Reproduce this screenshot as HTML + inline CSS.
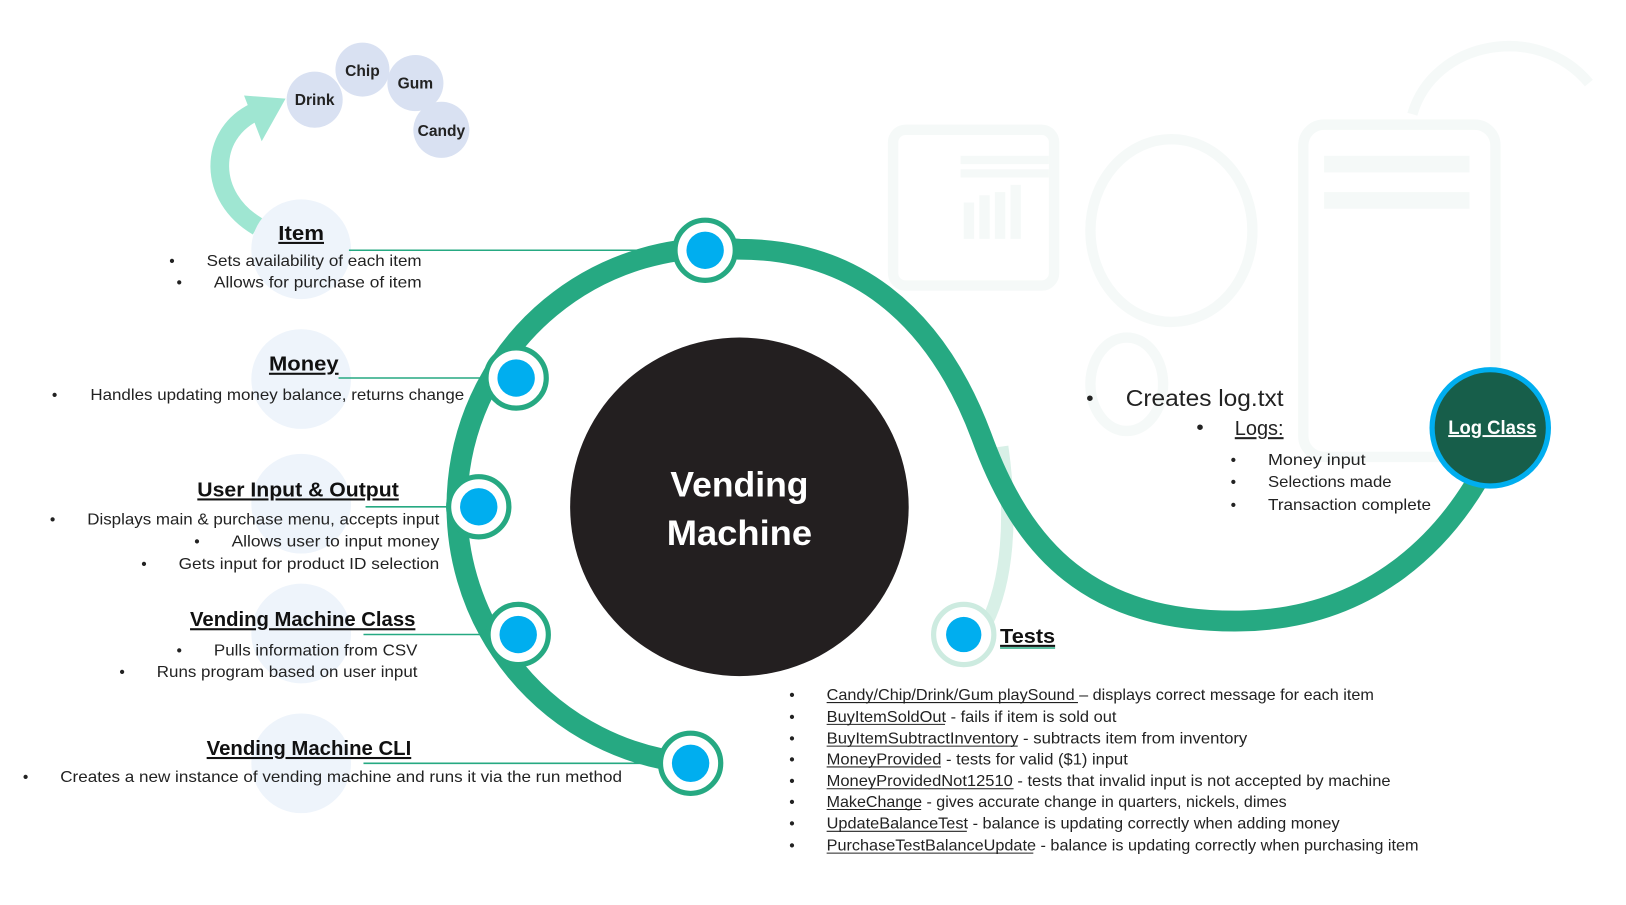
<!DOCTYPE html>
<html><head><meta charset="utf-8"><style>
html,body{margin:0;padding:0;background:#fff;}
svg{display:block;font-family:"Liberation Sans",sans-serif;}
</style></head><body>
<svg width="1626" height="905" viewBox="0 0 1626 905" xmlns="http://www.w3.org/2000/svg">
<g transform="scale(1.0385)">
<!-- faint background illustration -->
<g fill="none" stroke="#f5f9f8" stroke-width="10">
<rect x="860" y="125" width="155" height="150" rx="12"/>
<ellipse cx="1128" cy="222" rx="78" ry="88"/>
<rect x="1255" y="120" width="185" height="320" rx="20"/>
<ellipse cx="1085" cy="370" rx="35" ry="45"/>
<path d="M1360 110 C1380 40 1480 20 1530 80"/>
</g>
<g fill="#f5f9f8">
<rect x="925" y="150" width="85" height="8"/><rect x="925" y="163" width="85" height="8"/>
<rect x="928" y="195" width="10" height="35"/><rect x="943" y="188" width="10" height="42"/><rect x="958" y="185" width="10" height="45"/><rect x="973" y="178" width="10" height="52"/>
<rect x="1275" y="150" width="140" height="16"/><rect x="1275" y="185" width="140" height="16"/>
</g>
<!-- tests faint line -->
<path d="M965 430 C975 500 970 560 950 600" stroke="#d8f0e7" stroke-width="12" fill="none"/>

<!-- Item bubbles arrow -->
<path d="M248 218 C200 190 200 130 245 108" stroke="#9fe6d2" stroke-width="18" fill="none"/>
<polygon points="235,92 275,95 252,136" fill="#9fe6d2"/>
<g fill="#d9e1f2">
<circle cx="303" cy="96" r="27"/><circle cx="349" cy="67" r="26"/><circle cx="400" cy="80" r="27"/><circle cx="425" cy="125" r="27"/>
</g>
<g font-weight="bold" font-size="15" fill="#222" text-anchor="middle">
<text x="303" y="101">Drink</text><text x="349" y="73">Chip</text><text x="400" y="85">Gum</text><text x="425" y="131">Candy</text>
</g>

<!-- light bubbles behind headings -->
<g fill="#eef4fb">
<ellipse cx="290" cy="240" rx="48" ry="48"/>
<ellipse cx="290" cy="365" rx="48" ry="48"/>
<ellipse cx="290" cy="485" rx="48" ry="48"/>
<ellipse cx="290" cy="610" rx="48" ry="48"/>
<ellipse cx="290" cy="735" rx="48" ry="48"/>
</g>

<!-- connector lines -->
<g stroke="#26a982" stroke-width="1.5">
<line x1="336" y1="241" x2="650" y2="241"/>
<line x1="326" y1="364" x2="467" y2="364"/>
<line x1="352" y1="488" x2="431" y2="488"/>
<line x1="350" y1="611" x2="470" y2="611"/>
<line x1="350" y1="735" x2="635" y2="735"/>
</g>

<!-- main green path -->
<path d="M665 735 A248 248 0 0 1 712 240 C820 240 900 300 945 420 C985 530 1050 600 1195 598 C1320 596 1395 520 1435 440" stroke="#26a982" stroke-width="20" fill="none"/>

<!-- center -->
<circle cx="712" cy="488" r="163" fill="#231f20"/>
<g fill="#fff" font-weight="bold" font-size="34" text-anchor="middle">
<text x="712" y="478" textLength="133" lengthAdjust="spacingAndGlyphs">Vending</text>
<text x="712" y="525" textLength="140" lengthAdjust="spacingAndGlyphs">Machine</text>
</g>

<!-- nodes -->
<g>
<g fill="#fff" stroke="#26a982" stroke-width="5">
<circle cx="679" cy="241" r="29"/><circle cx="497" cy="364" r="29"/><circle cx="461" cy="488" r="29"/><circle cx="499" cy="611" r="29"/><circle cx="665" cy="735" r="29"/>
</g>
<circle cx="928" cy="611" r="29" fill="#fff" stroke="#cdebe0" stroke-width="5"/>
<g fill="#00aeef">
<circle cx="679" cy="241" r="18"/><circle cx="497" cy="364" r="18"/><circle cx="461" cy="488" r="18"/><circle cx="499" cy="611" r="18"/><circle cx="665" cy="735" r="18"/><circle cx="928" cy="611" r="17"/>
</g>
</g>

<!-- Log class -->
<circle cx="1435" cy="412" r="56" fill="#175e4a" stroke="#00aeef" stroke-width="5"/>
<text x="1437" y="418" fill="#fff" font-weight="bold" font-size="19" text-anchor="middle" text-decoration="underline" textLength="85" lengthAdjust="spacingAndGlyphs">Log Class</text>

<!-- headings -->
<g font-weight="bold" font-size="20" fill="#111" text-decoration="underline">
<text x="268" y="231" textLength="44" lengthAdjust="spacingAndGlyphs">Item</text>
<text x="259" y="357" textLength="67" lengthAdjust="spacingAndGlyphs">Money</text>
<text x="190" y="478" textLength="194" lengthAdjust="spacingAndGlyphs">User Input &amp; Output</text>
<text x="183" y="603" textLength="217" lengthAdjust="spacingAndGlyphs">Vending Machine Class</text>
<text x="199" y="727" textLength="197" lengthAdjust="spacingAndGlyphs">Vending Machine CLI</text>
<text x="963" y="619" textLength="53" lengthAdjust="spacingAndGlyphs">Tests</text>
</g>

<!-- left bullets -->
<g font-size="15" fill="#222">
<text x="163" y="256">•</text><text x="199" y="256" textLength="207" lengthAdjust="spacingAndGlyphs">Sets availability of each item</text>
<text x="170" y="277">•</text><text x="206" y="277" textLength="200" lengthAdjust="spacingAndGlyphs">Allows for purchase of item</text>
<text x="50" y="385">•</text><text x="87" y="385" textLength="360" lengthAdjust="spacingAndGlyphs">Handles updating money balance, returns change</text>
<text x="48" y="505">•</text><text x="84" y="505" textLength="339" lengthAdjust="spacingAndGlyphs">Displays main &amp; purchase menu, accepts input</text>
<text x="187" y="526">•</text><text x="223" y="526" textLength="200" lengthAdjust="spacingAndGlyphs">Allows user to input money</text>
<text x="136" y="548">•</text><text x="172" y="548" textLength="251" lengthAdjust="spacingAndGlyphs">Gets input for product ID selection</text>
<text x="170" y="631">•</text><text x="206" y="631" textLength="196" lengthAdjust="spacingAndGlyphs">Pulls information from CSV</text>
<text x="115" y="652">•</text><text x="151" y="652" textLength="251" lengthAdjust="spacingAndGlyphs">Runs program based on user input</text>
<text x="22" y="753">•</text><text x="58" y="753" textLength="541" lengthAdjust="spacingAndGlyphs">Creates a new instance of vending machine and runs it via the run method</text>
</g>

<!-- log text -->
<g fill="#222">
<text x="1046" y="390" font-size="20">•</text>
<text x="1084" y="391" font-size="22" textLength="152" lengthAdjust="spacingAndGlyphs">Creates log.txt</text>
<text x="1152" y="418" font-size="20">•</text>
<text x="1189" y="419" font-size="20" text-decoration="underline" textLength="47" lengthAdjust="spacingAndGlyphs">Logs:</text>
<g font-size="15">
<text x="1185" y="448">•</text><text x="1221" y="448" textLength="94" lengthAdjust="spacingAndGlyphs">Money input</text>
<text x="1185" y="469">•</text><text x="1221" y="469" textLength="119" lengthAdjust="spacingAndGlyphs">Selections made</text>
<text x="1185" y="491">•</text><text x="1221" y="491" textLength="157" lengthAdjust="spacingAndGlyphs">Transaction complete</text>
</g>
</g>

<!-- tests list -->
<g font-size="15" fill="#222">
<text x="760" y="674">•</text><text x="796" y="674" textLength="527" lengthAdjust="spacingAndGlyphs">Candy/Chip/Drink/Gum playSound – displays correct message for each item</text>
<text x="760" y="695">•</text><text x="796" y="695" textLength="279" lengthAdjust="spacingAndGlyphs">BuyItemSoldOut - fails if item is sold out</text>
<text x="760" y="716">•</text><text x="796" y="716" textLength="405" lengthAdjust="spacingAndGlyphs">BuyItemSubtractInventory - subtracts item from inventory</text>
<text x="760" y="736">•</text><text x="796" y="736" textLength="290" lengthAdjust="spacingAndGlyphs">MoneyProvided - tests for valid ($1) input</text>
<text x="760" y="757">•</text><text x="796" y="757" textLength="543" lengthAdjust="spacingAndGlyphs">MoneyProvidedNot12510 - tests that invalid input is not accepted by machine</text>
<text x="760" y="777">•</text><text x="796" y="777" textLength="443" lengthAdjust="spacingAndGlyphs">MakeChange - gives accurate change in quarters, nickels, dimes</text>
<text x="760" y="798">•</text><text x="796" y="798" textLength="494" lengthAdjust="spacingAndGlyphs">UpdateBalanceTest - balance is updating correctly when adding money</text>
<text x="760" y="819">•</text><text x="796" y="819" textLength="570" lengthAdjust="spacingAndGlyphs">PurchaseTestBalanceUpdate - balance is updating correctly when purchasing item</text>
</g>
<g stroke="#222" stroke-width="1">
<line x1="796" y1="676.5" x2="1038" y2="676.5"/>
<line x1="796" y1="697.5" x2="910" y2="697.5"/>
<line x1="796" y1="718.5" x2="980" y2="718.5"/>
<line x1="796" y1="738.5" x2="906" y2="738.5"/>
<line x1="796" y1="759.5" x2="976" y2="759.5"/>
<line x1="796" y1="779.5" x2="887" y2="779.5"/>
<line x1="796" y1="800.5" x2="931" y2="800.5"/>
<line x1="796" y1="821.5" x2="995" y2="821.5"/>
</g>
<line x1="963" y1="624" x2="1016" y2="624" stroke="#26a982" stroke-width="1.5"/>
</g>
</svg>
</body></html>
